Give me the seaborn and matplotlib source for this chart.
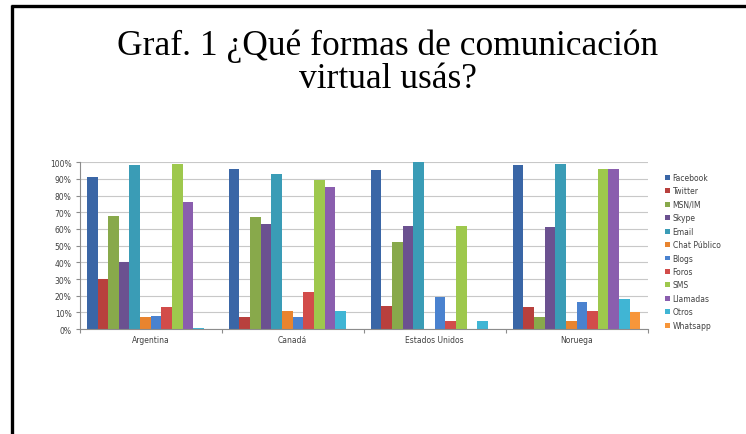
import matplotlib
matplotlib.use("Agg")
import matplotlib.pyplot as plt
from matplotlib.lines import Line2D
from matplotlib.ticker import FuncFormatter, FixedLocator
import pandas as pd
import seaborn as sns

# Countries (categories) and communication channels (series)
paises = ["Argentina", "Canadá", "Estados Unidos", "Noruega"]
medios = ["Facebook", "Twitter", "MSN/IM", "Skype", "Email", "Chat Público",
          "Blogs", "Foros", "SMS", "Llamadas", "Otros", "Whatsapp"]

# Share of respondents using each channel, per country (Argentina, Canadá, EE.UU., Noruega)
facebook = [0.91, 0.96, 0.95, 0.98]
twitter = [0.30, 0.07, 0.14, 0.13]
msn_im = [0.68, 0.67, 0.52, 0.07]
skype = [0.40, 0.63, 0.62, 0.61]
email = [0.98, 0.93, 1.00, 0.99]
chat_publico = [0.07, 0.11, 0.00, 0.05]
blogs = [0.08, 0.07, 0.19, 0.16]
foros = [0.13, 0.22, 0.05, 0.11]
sms = [0.99, 0.89, 0.62, 0.96]
llamadas = [0.76, 0.85, 0.00, 0.96]
otros = [0.005, 0.11, 0.05, 0.18]
whatsapp = [0.00, 0.00, 0.00, 0.10]

series = [facebook, twitter, msn_im, skype, email, chat_publico,
          blogs, foros, sms, llamadas, otros, whatsapp]

colores = ["#3A66A6", "#B8403D", "#88A94B", "#6B5190", "#3A9CB6", "#E8842F",
           "#4A82CF", "#D24C4A", "#9EC84D", "#8A5EAE", "#40B5D4", "#F7963A"]

rows = []
for medio, valores in zip(medios, series):
    for pais, v in zip(paises, valores):
        rows.append({"País": pais, "Medio": medio, "Valor": v})
df = pd.DataFrame(rows)

sns.set_style("white")
plt.rcParams["font.family"] = ["DejaVu Sans"]

fig = plt.figure(figsize=(7.46, 4.35), dpi=100)
fig.patch.set_facecolor("white")

ax = fig.add_axes([0.107, 0.241, 0.761, 0.384])
sns.barplot(data=df, x="País", y="Valor", hue="Medio", hue_order=medios,
            order=paises, palette=colores, width=0.9, gap=0, saturation=1,
            errorbar=None, linewidth=0, ax=ax)

ax.set_ylim(0, 1.0)
ax.set_xlim(-0.5, 3.5)
ax.set_xlabel("")
ax.set_ylabel("")
ax.yaxis.set_major_locator(FixedLocator([i / 10 for i in range(11)]))
ax.yaxis.set_major_formatter(FuncFormatter(lambda v, _: f"{round(v * 100)}%"))
ax.grid(axis="y", color="#C8C8C8", linewidth=0.8)
ax.set_axisbelow(True)

for side in ("top", "right"):
    ax.spines[side].set_visible(False)
for side in ("left", "bottom"):
    ax.spines[side].set_color("#8C8C8C")
    ax.spines[side].set_linewidth(0.8)

ax.tick_params(axis="y", which="major", length=3, width=0.8, color="#8C8C8C",
               labelsize=5.5, labelcolor="#404040", pad=3, left=True)
ax.tick_params(axis="x", which="major", length=0, labelsize=5.5,
               labelcolor="#404040", pad=4)
ax.set_xticks([-0.5, 0.5, 1.5, 2.5, 3.5], minor=True)
ax.tick_params(axis="x", which="minor", length=3, width=0.8, color="#8C8C8C",
               bottom=True)

handles, labels = ax.get_legend_handles_labels()
ax.legend(handles, labels, loc="upper left",
          bbox_to_anchor=(662 / 746, 1 - 171 / 435), bbox_transform=fig.transFigure,
          frameon=False, fontsize=5.5, handlelength=0.6, handleheight=0.6,
          handletextpad=0.4, labelspacing=0.58, borderaxespad=0,
          labelcolor="#404040")

fig.text(388 / 746, 1 - 46 / 435, "Graf. 1 ¿Qué formas de comunicación",
         ha="center", va="center", family="Liberation Serif", fontsize=25.5,
         color="black")
fig.text(388 / 746, 1 - 80 / 435, "virtual usás?",
         ha="center", va="center", family="Liberation Serif", fontsize=25.5,
         color="black")

# Slide frame: top and left border lines
fig.add_artist(Line2D([11 / 746, 1.0], [1 - 6.5 / 435, 1 - 6.5 / 435],
                      transform=fig.transFigure, color="black", linewidth=2.4,
                      solid_capstyle="butt"))
fig.add_artist(Line2D([11.5 / 746, 11.5 / 746], [0, 1 - 5.5 / 435],
                      transform=fig.transFigure, color="black", linewidth=2.4,
                      solid_capstyle="butt"))

fig.savefig("out.png", dpi=100, facecolor="white")
